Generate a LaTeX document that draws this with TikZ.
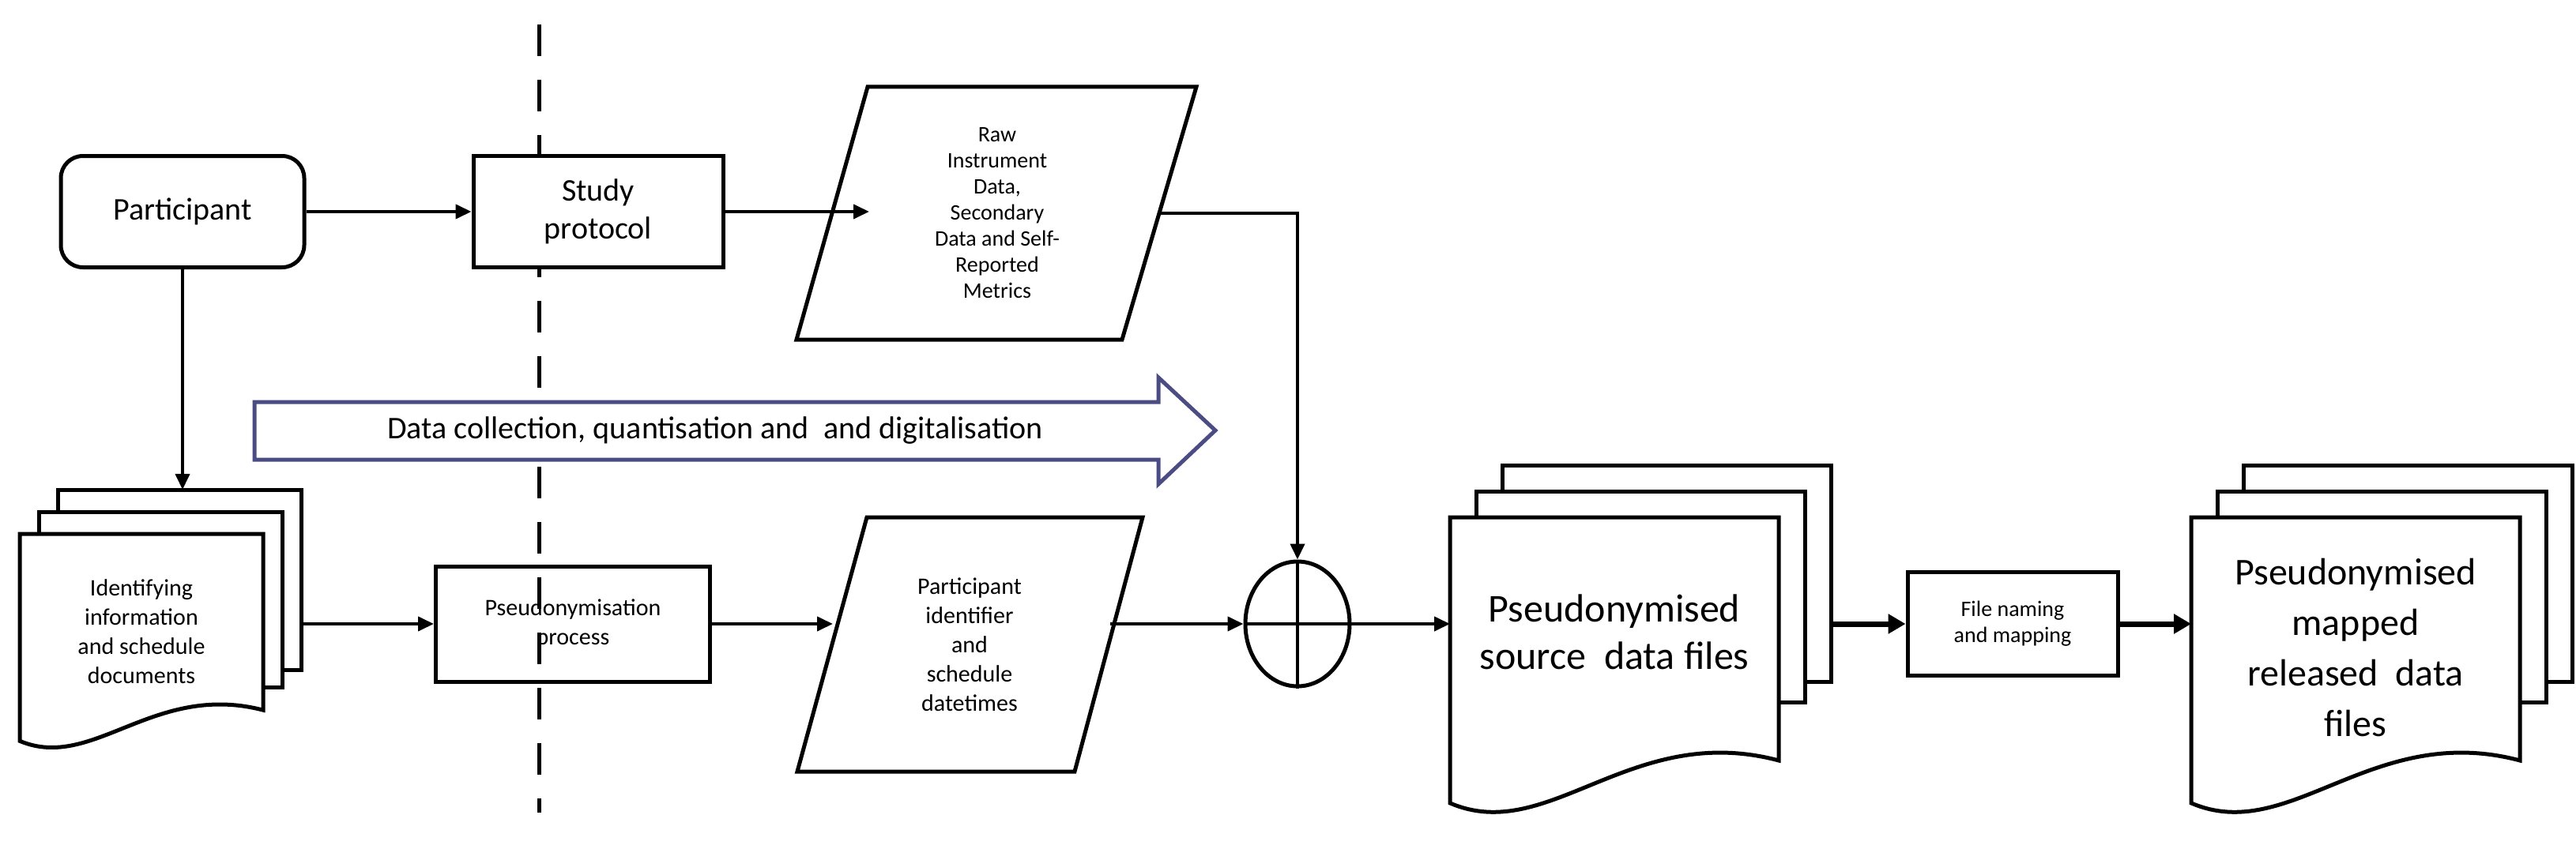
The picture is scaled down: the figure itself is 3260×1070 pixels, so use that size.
\documentclass[tikz,border=0pt]{standalone}
\usepackage{fontspec}
\setmainfont{Carlito}
\usetikzlibrary{arrows.meta,shapes.geometric}
\tikzset{
  box/.style={draw,line width=5pt,align=center,inner sep=0pt},
  con/.style={line width=4pt,-{Triangle[length=20pt,width=18pt]}},
  tcon/.style={line width=7pt,-{Triangle[length=22pt,width=24pt]}},
  page/.style={draw,line width=5pt,fill=white},
  para/.style={draw,line width=5pt,fill=white},
}
% \mydocstack{x1}{x2}{top}{bottom}{dx}{dy}{backbottom}
\newcommand{\mydocstack}[7]{%
  \pgfmathsetmacro{\w}{#2-#1}\pgfmathsetmacro{\h}{#4-#3}%
  \draw[page] (#1+2*#5,#3-2*#6) rectangle (#2+2*#5,#7);
  \draw[page] (#1+#5,#3-#6) rectangle (#2+#5,#7+#6*0.8);
  \draw[page] (#1,#3) -- (#2,#3) -- (#2,#4-0.2*\h)
     .. controls (#1+0.55*\w,#4-0.33*\h) and (#1+0.3*\w,#4+0.08*\h) .. (#1,#4-0.06*\h) -- cycle;
}
\begin{document}
\begin{tikzpicture}[x=1pt,y=-1pt]
\useasboundingbox (0,0) rectangle (3260,1070);
% dashed line
\draw[line width=5pt,dash pattern=on 40pt off 30pt] (682,31) -- (682,1029);
% Participant
\node[box,rounded corners=28pt,fill=white,minimum width=308pt,minimum height=141pt,font=\fontsize{40}{48}\selectfont] (part) at (231,268) {Participant};
\node[box,fill=white,minimum width=316pt,minimum height=141pt,font=\fontsize{40}{48}\selectfont] (study) at (757,268) {Study\\protocol};
\draw[para] (1098,110) -- (1514,110) -- (1420,430) -- (1008,430) -- cycle;
\node[align=center,font=\fontsize{28}{33}\selectfont] (raw) at (1262,270) {Raw\\Instrument\\Data,\\Secondary\\Data and Self-\\Reported\\Metrics};
\coordinate (rawin) at (1100,268);
\coordinate (rawout) at (1467,270);
% big arrow
\draw[line width=5pt,draw=black!45!blue!40!gray,fill=white] (322,509) -- (1466,509) -- (1466,478) -- (1538,545) -- (1466,613) -- (1466,582) -- (322,582) -- cycle;
\node[font=\fontsize{40}{48}\selectfont] (bigarrow) at (905,545) {Data collection, quantisation and\ \ and digitalisation};
% left docs
\mydocstack{25}{333}{676}{955}{24}{28}{848}
\node[align=center,font=\fontsize{30}{37}\selectfont] (docs) at (179,800) {Identifying\\information\\and schedule\\documents};
\coordinate (docstop) at (231,620);
\coordinate (docsout) at (381,790);
% pseudonymisation
\node[box,minimum width=347pt,minimum height=146pt,font=\fontsize{30}{37}\selectfont] (pseudo) at (725,790) {Pseudonymisation\\process};
\draw[para] (1097,655) -- (1446,655) -- (1360,977) -- (1009,977) -- cycle;
\node[align=center,font=\fontsize{30}{37}\selectfont] (pid) at (1227,816) {Participant\\identifier\\and\\schedule\\datetimes};
\coordinate (pidin) at (1054,790);
\coordinate (pidout) at (1405,790);
% circle
\node[draw,ellipse,line width=5pt,minimum width=132pt,minimum height=158pt,inner sep=0pt] (sum) at (1642,790) {};
\draw[line width=4pt] (sum.north) -- (sum.south) (sum.west) -- (sum.east);
% source docs
\mydocstack{1835}{2251}{655}{1040}{33}{33}{863}
\node[align=center,font=\fontsize{50}{60}\selectfont] (src) at (2043,800) {Pseudonymised\\source\ \ data files};
\coordinate (srcin) at (1835,790);
\coordinate (srcout) at (2317,790);
% file naming
\node[box,minimum width=266pt,minimum height=131pt,font=\fontsize{28}{33}\selectfont] (fnm) at (2547,790) {File naming\\and mapping};
% released docs
\mydocstack{2773}{3189}{655}{1040}{33}{33}{863}
\node[align=center,font=\fontsize{48}{64}\selectfont] (rel) at (2981,820) {Pseudonymised\\mapped\\released\ \ data\\files};
\coordinate (relin) at (2773,790);
% connectors
\draw[con] (part.east) -- (study.west);
\draw[con] (study.east) -- (rawin);
\draw[con] (part.south) -- (docstop);
\draw[con] (docsout) -- (pseudo.west);
\draw[con] (pseudo.east) -- (pidin);
\draw[con] (pidout) -- (sum.west);
\draw[con] (rawout) -| (sum.north);
\draw[con] (sum.east) -- (srcin);
\draw[tcon] (srcout) -- (fnm.west);
\draw[tcon] (fnm.east) -- (relin);
\end{tikzpicture}
\end{document}
